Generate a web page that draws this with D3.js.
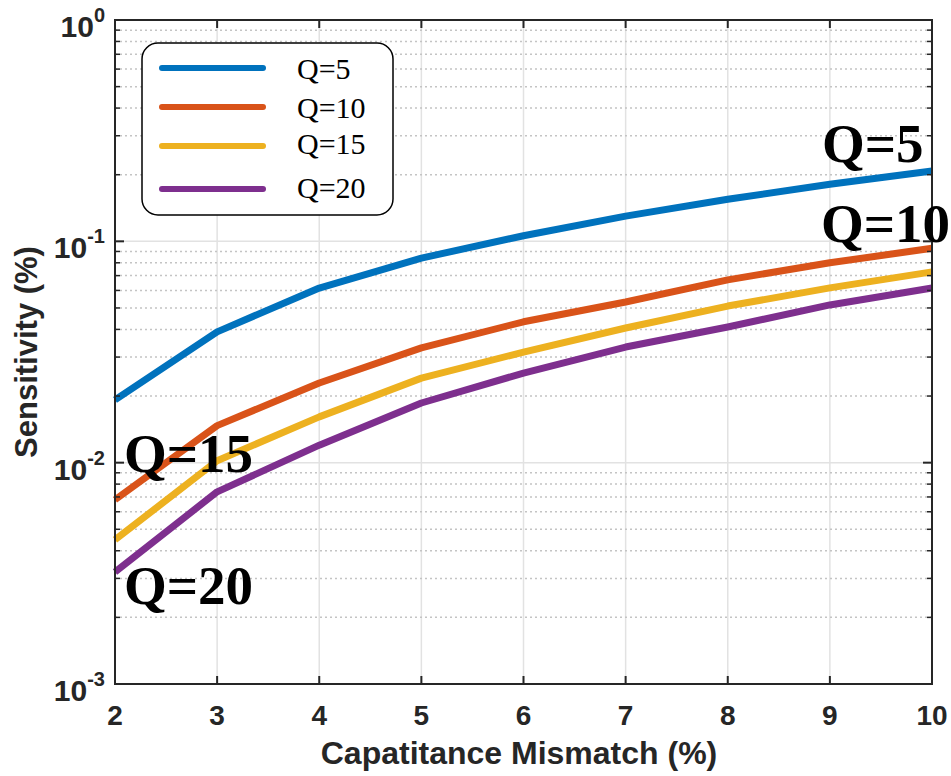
<!DOCTYPE html>
<html lang="en">
<head>
  <meta charset="UTF-8">
  <title>Sensitivity vs Capacitance Mismatch</title>
  <script src="https://d3js.org/d3.v7.min.js"></script>
  <style>
    body { margin: 0; background: #fff; }
    .tick-label { font-family: "Liberation Sans", Arial, sans-serif; font-weight: bold; fill: #262626; }
    .legend-text { font-family: "Liberation Serif", "Times New Roman", serif; fill: #000; }
    .annot { font-family: "Liberation Serif", "Times New Roman", serif; font-weight: bold; fill: #000; }
  </style>
</head>
<body>
  <svg id="chart" width="951" height="776"></svg>
  <script>
    // data
    const mismatch = [2, 3, 4, 5, 6, 7, 8, 9, 10];
    const q5  = [0.0192, 0.039, 0.0615, 0.084, 0.106, 0.130, 0.155, 0.181, 0.208];
    const q10 = [0.0068, 0.0147, 0.0229, 0.033, 0.0433, 0.0532, 0.067, 0.080, 0.093];
    const q15 = [0.00448, 0.0102, 0.0161, 0.0241, 0.0316, 0.0406, 0.051, 0.0616, 0.0728];
    const q20 = [0.00321, 0.00738, 0.0120, 0.0186, 0.0254, 0.0333, 0.041, 0.0516, 0.0615];
    const seriesNames = ["Q=5", "Q=10", "Q=15", "Q=20"];
    const colors = ["#0072BD", "#D95319", "#EDB120", "#7E2F8E"];
    const xTicks = [2, 3, 4, 5, 6, 7, 8, 9, 10];
    const yDecades = [-3, -2, -1, 0];

    const series = [q5, q10, q15, q20].map((vals, i) => ({
      name: seriesNames[i],
      color: colors[i],
      points: vals.map((v, j) => ({ x: mismatch[j], y: v }))
    }));

    const svg = d3.select("#chart");
    const plot = { left: 115, right: 932, top: 20, bottom: 684 };

    const x = d3.scaleLinear().domain([2, 10]).range([plot.left, plot.right]);
    const y = d3.scaleLog().domain([1e-3, 1]).range([plot.bottom, plot.top]);

    // minor values for log grid
    const minors = [];
    [-3, -2, -1].forEach(e => {
      for (let k = 2; k <= 9; k++) minors.push(k * Math.pow(10, e));
    });

    const grid = svg.append("g");
    // vertical major grid
    grid.selectAll("line.vg")
      .data(xTicks.slice(1, -1))
      .enter().append("line")
      .attr("x1", d => x(d)).attr("x2", d => x(d))
      .attr("y1", plot.top).attr("y2", plot.bottom)
      .attr("stroke", "#e2e2e2").attr("stroke-width", 1.5);
    // horizontal minor grid (dotted)
    grid.selectAll("line.mg")
      .data(minors)
      .enter().append("line")
      .attr("x1", plot.left).attr("x2", plot.right)
      .attr("y1", d => y(d)).attr("y2", d => y(d))
      .attr("stroke", "#c4c4c4").attr("stroke-width", 1.5)
      .attr("stroke-dasharray", "2,3");
    // horizontal major grid
    grid.selectAll("line.hg")
      .data([1e-2, 1e-1])
      .enter().append("line")
      .attr("x1", plot.left).attr("x2", plot.right)
      .attr("y1", d => y(d)).attr("y2", d => y(d))
      .attr("stroke", "#e2e2e2").attr("stroke-width", 1.5);

    // data lines
    const line = d3.line().x(d => x(d.x)).y(d => y(d.y));
    svg.append("g").selectAll("path")
      .data(series)
      .enter().append("path")
      .attr("d", d => line(d.points))
      .attr("fill", "none")
      .attr("stroke", d => d.color)
      .attr("stroke-width", 7)
      .attr("stroke-linejoin", "round");

    // axes box + ticks
    const ax = svg.append("g").attr("stroke", "#262626");
    ax.append("rect")
      .attr("x", plot.left).attr("y", plot.top)
      .attr("width", plot.right - plot.left).attr("height", plot.bottom - plot.top)
      .attr("fill", "none").attr("stroke-width", 2);
    // x ticks bottom & top
    xTicks.slice(1, -1).forEach(t => {
      ax.append("line").attr("x1", x(t)).attr("x2", x(t)).attr("y1", plot.bottom).attr("y2", plot.bottom - 8).attr("stroke-width", 2);
      ax.append("line").attr("x1", x(t)).attr("x2", x(t)).attr("y1", plot.top).attr("y2", plot.top + 8).attr("stroke-width", 2);
    });
    // y ticks left & right
    yDecades.slice(1, -1).forEach(e => {
      const yy = y(Math.pow(10, e));
      ax.append("line").attr("x1", plot.left).attr("x2", plot.left + 9).attr("y1", yy).attr("y2", yy).attr("stroke-width", 2);
      ax.append("line").attr("x1", plot.right).attr("x2", plot.right - 9).attr("y1", yy).attr("y2", yy).attr("stroke-width", 2);
    });
    minors.forEach(m => {
      const yy = y(m);
      ax.append("line").attr("x1", plot.left).attr("x2", plot.left + 5).attr("y1", yy).attr("y2", yy).attr("stroke-width", 1.5);
      ax.append("line").attr("x1", plot.right).attr("x2", plot.right - 5).attr("y1", yy).attr("y2", yy).attr("stroke-width", 1.5);
    });

    // x tick labels
    svg.append("g").selectAll("text")
      .data(xTicks)
      .enter().append("text")
      .attr("class", "tick-label")
      .attr("x", d => x(d))
      .attr("y", 725)
      .attr("text-anchor", "middle")
      .style("font-size", "28px")
      .text(d => d);

    // y tick labels: 10^e
    yDecades.forEach(e => {
      const t = svg.append("text")
        .attr("class", "tick-label")
        .attr("x", 105)
        .attr("y", y(Math.pow(10, e)) + 17)
        .attr("text-anchor", "end")
        .style("font-size", "30px");
      t.append("tspan").text("10");
      t.append("tspan").attr("dy", -15).style("font-size", "20px").text(e);
    });

    // axis titles
    svg.append("text")
      .attr("class", "tick-label")
      .attr("x", 519)
      .attr("y", 764)
      .attr("text-anchor", "middle")
      .style("font-size", "32px")
      .text("Capatitance Mismatch (%)");
    svg.append("text")
      .attr("class", "tick-label")
      .attr("transform", `translate(37, ${(plot.top + plot.bottom) / 2}) rotate(-90)`)
      .attr("text-anchor", "middle")
      .style("font-size", "31px")
      .text("Sensitivity (%)");

    // legend
    const legend = svg.append("g");
    legend.append("rect")
      .attr("x", 142).attr("y", 43)
      .attr("width", 251).attr("height", 172)
      .attr("rx", 16).attr("ry", 16)
      .attr("fill", "#fff").attr("stroke", "#000").attr("stroke-width", 1.5);
    const legendY = [68, 107, 146, 189];
    const legendTextY = [68, 107, 143, 187];
    series.forEach((s, i) => {
      legend.append("line")
        .attr("x1", 162).attr("x2", 263)
        .attr("y1", legendY[i]).attr("y2", legendY[i])
        .attr("stroke", s.color).attr("stroke-width", 6)
        .attr("stroke-linecap", "round");
      legend.append("text")
        .attr("class", "legend-text")
        .attr("x", 297).attr("y", legendTextY[i])
        .attr("dy", "0.35em")
        .style("font-size", "30px")
        .text(s.name);
    });

    // in-plot annotations
    const annots = [
      { text: "Q=5", x: 822, y: 162 },
      { text: "Q=10", x: 821, y: 242 },
      { text: "Q=15", x: 124, y: 472 },
      { text: "Q=20", x: 124, y: 604 }
    ];
    svg.append("g").selectAll("text")
      .data(annots)
      .enter().append("text")
      .attr("class", "annot")
      .attr("x", d => d.x).attr("y", d => d.y)
      .style("font-size", "55px")
      .text(d => d.text);
  </script>
</body>
</html>
